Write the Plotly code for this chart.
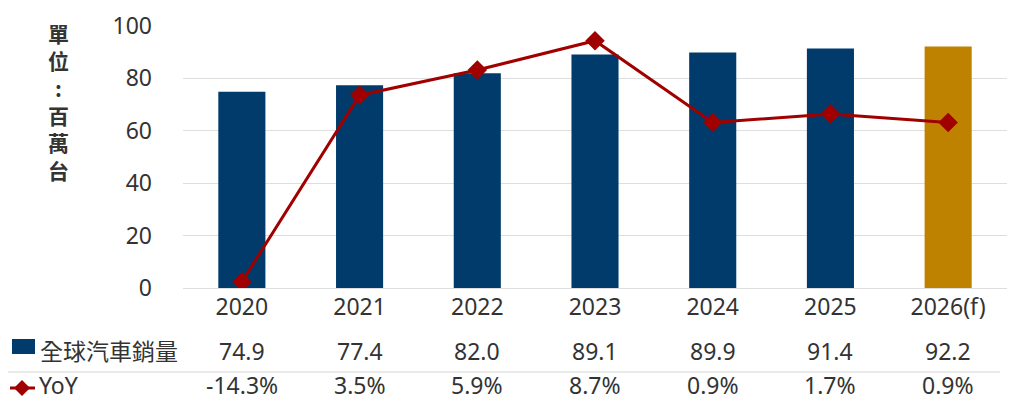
import plotly.graph_objects as go

years = ["2020", "2021", "2022", "2023", "2024", "2025", "2026(f)"]
sales = [74.9, 77.4, 82.0, 89.1, 89.9, 91.4, 92.2]
yoy = [-14.3, 3.5, 5.9, 8.7, 0.9, 1.7, 0.9]
sales_labels = ["74.9", "77.4", "82.0", "89.1", "89.9", "91.4", "92.2"]
yoy_labels = ["-14.3%", "3.5%", "5.9%", "8.7%", "0.9%", "1.7%", "0.9%"]
y_ticks = [0, 20, 40, 60, 80, 100]

W, H = 1013, 401
L, R, T, B = 183, 1007, 26, 288
NAVY = "#003b6b"
GOLD = "#bf8200"
RED = "#a00000"
TXT = "#333333"
FONT = "Noto Sans, Noto Sans CJK TC"
CJK = "Noto Sans CJK TC"


def px_x(p):
    return (p - L) / (R - L)


def px_y(p):
    return (B - p) / (B - T)


bar_colors = [NAVY] * (len(years) - 1) + [GOLD]

fig = go.Figure()
fig.add_trace(go.Bar(x=years, y=sales, marker_color=bar_colors, marker_line_width=0,
                     name="全球汽車銷量"))
fig.add_trace(go.Scatter(x=years, y=yoy, yaxis="y2", mode="lines+markers",
                         line=dict(color=RED, width=3),
                         marker=dict(symbol="diamond", size=15, color=RED),
                         name="YoY"))

annotations = []
for i, yr in enumerate(years):
    annotations.append(dict(x=i, xref="x", y=px_y(351), yref="paper", text=sales_labels[i],
                            showarrow=False, xanchor="center", yanchor="middle",
                            font=dict(size=23, color=TXT, family=FONT)))
    annotations.append(dict(x=i, xref="x", y=px_y(385), yref="paper", text=yoy_labels[i],
                            showarrow=False, xanchor="center", yanchor="middle",
                            font=dict(size=23, color=TXT, family=FONT)))

annotations.append(dict(x=px_x(38), xref="paper", y=px_y(350), yref="paper", text="全球汽車銷量",
                        showarrow=False, xanchor="left", yanchor="middle",
                        font=dict(size=23, color=TXT, family=CJK)))
annotations.append(dict(x=px_x(37), xref="paper", y=px_y(385), yref="paper", text="YoY",
                        showarrow=False, xanchor="left", yanchor="middle",
                        font=dict(size=23, color=TXT, family=FONT)))
annotations.append(dict(x=px_x(58), xref="paper", y=px_y(16), yref="paper",
                        text="<br>".join(["<b>%s</b>" % c for c in "單位:百萬台"]),
                        showarrow=False, xanchor="center", yanchor="top", align="center",
                        font=dict(size=21, color=TXT, family=CJK)))

shapes = [
    dict(type="rect", xref="paper", yref="paper", x0=px_x(12), x1=px_x(35),
         y0=px_y(354), y1=px_y(339), fillcolor=NAVY, line_width=0),
    dict(type="line", xref="paper", yref="paper", x0=px_x(10), x1=px_x(35),
         y0=px_y(388), y1=px_y(388), line=dict(color=RED, width=3)),
    dict(type="path", xref="paper", yref="paper",
         path="M %f,%f L %f,%f L %f,%f L %f,%f Z" % (
             px_x(22), px_y(380), px_x(30), px_y(388), px_x(22), px_y(396), px_x(14), px_y(388)),
         fillcolor=RED, line_width=0),
    dict(type="line", xref="paper", yref="paper", x0=px_x(8), x1=px_x(1000),
         y0=px_y(372), y1=px_y(372), line=dict(color="#e3e3e3", width=1.5)),
]

fig.update_layout(
    width=W, height=H,
    margin=dict(l=L, r=W - R, t=T, b=H - B, pad=0),
    paper_bgcolor="white", plot_bgcolor="white",
    showlegend=False,
    bargap=0.6,
    font=dict(family=FONT, color=TXT),
    xaxis=dict(type="category", tickfont=dict(size=23, color=TXT, family=FONT),
               showgrid=False, showline=False, ticks="", ticklabelstandoff=3),
    yaxis=dict(range=[0, 100], tickvals=y_ticks, tickfont=dict(size=23, color=TXT, family=FONT),
               showgrid=True, gridcolor="#dedede", gridwidth=1, zeroline=True,
               zerolinecolor="#dedede", zerolinewidth=1, showline=False, ticks="",
               ticklabelstandoff=30),
    yaxis2=dict(range=[-14.9, 10.1], overlaying="y", side="right", visible=False),
    annotations=annotations,
    shapes=shapes,
)

fig.write_html("out.html")
